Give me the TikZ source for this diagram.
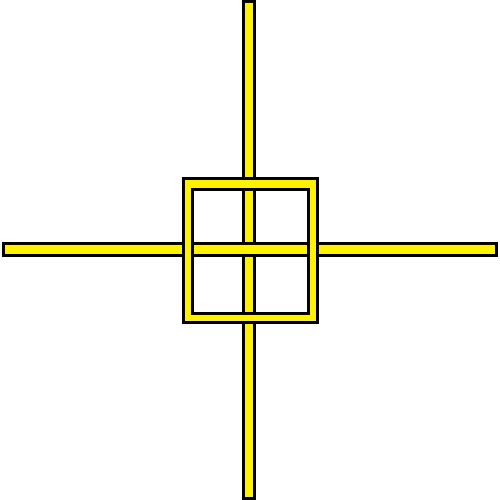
\documentclass[tikz,border=0pt]{standalone}
\begin{document}
\begin{tikzpicture}[x=1pt,y=1pt,
  part/.style={draw=black,fill=yellow,line width=3pt,line join=miter}]
\useasboundingbox (0,0) rectangle (500,500);
% vertical bar
\draw[part] (243.5,1.5) rectangle (254.5,498.5);
% horizontal bar
\draw[part] (3.5,244.5) rectangle (496.5,256.5);
% square frame
\draw[part,even odd rule] (183.5,177.5) rectangle (317,321) (192.5,186.7) rectangle (308,310);
\end{tikzpicture}
\end{document}
